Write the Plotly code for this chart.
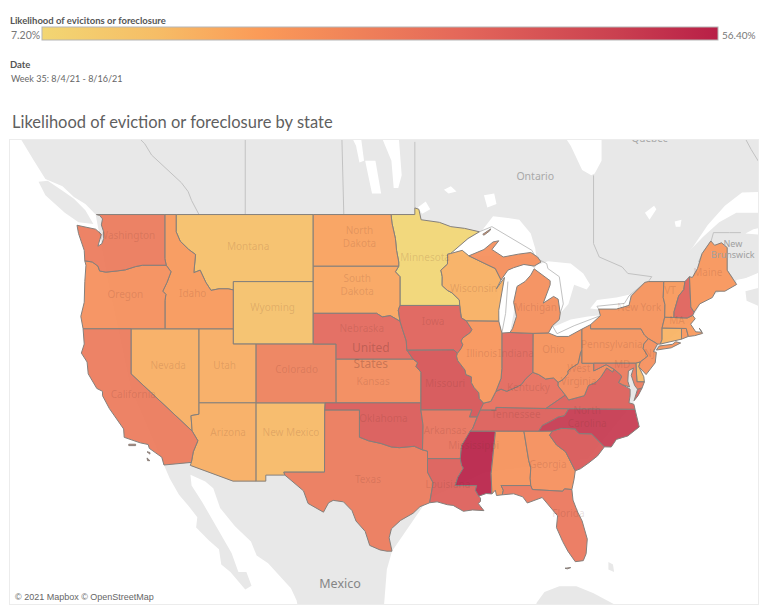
import math
import plotly.graph_objects as go
from plotly.colors import sample_colorscale

# ---------- chart values ----------
STATES = ["MN","WY","MT","NV","UT","AZ","NM","WI","ND","SD","ID","OR","CA","WA","CO","KS","TX","OK","NE","IA",
          "MO","AR","LA","MS","AL","GA","FL","SC","NC","TN","KY","VA","WV","OH","IN","IL","MI","PA","NY","NJ",
          "DE","MD","CT","RI","MA","VT","NH","ME"]
VALUES = [7.2,14.5,15,19,19.5,19,16.5,18.5,22,21,24,27,33,33,31,28,33,42,38,40,
          44,35,41,56.4,26,27,34,43,51,41,36,41,28,26,38,25,27,26,26,27,
          17,33,18,25,24,24,40,25]
VMIN, VMAX = 7.2, 56.4
COLORSCALE = [[0,"#f2d673"],[0.17,"#f6bd66"],[0.32,"#fb9b58"],[0.62,"#e4675a"],[0.85,"#ca4050"],[1,"#b81f47"]]

TITLE = "Likelihood of eviction or foreclosure by state"
LEGEND_TITLE = "Likelihood of evicitons or foreclosure"
DATE_TITLE = "Date"
DATE_VALUE = "Week 35: 8/4/21 - 8/16/21"

# ---------- geography (lon, lat) ----------
COLUMBIA = [(-124.05,46.27),(-123.4,46.2),(-122.9,45.95),(-122.75,45.65),(-122.2,45.58),(-121.2,45.65),(-120.5,45.72),(-119.6,45.92),(-119,46),(-116.92,46)]
SNAKE = [(-116.92,46),(-116.5,45.6),(-116.85,44.95),(-117.22,44.4),(-116.95,44.2),(-117.03,43.8)]
ID_MT = [(-116.05,49),(-116.05,48),(-115.7,47.45),(-114.95,46.95),(-114.35,46.65),(-114.5,45.55),(-113.95,45.7),(-113.45,44.95),(-113,44.45),(-112.3,44.55),(-111.5,44.55),(-111.05,44.48)]
RED_N = [(-97.23,49),(-97.15,48.5),(-96.85,47.6),(-96.75,46.9),(-96.56,46.2),(-96.56,45.94)]
MO_N = [(-96.45,42.49),(-96.25,42),(-96.1,41.6),(-95.9,41.2),(-95.85,40.6)]
MO_S = [(-95.85,40.6),(-95.31,40),(-94.9,39.75),(-95.05,39.5),(-94.61,39.11)]
ST_CROIX = [(-92.01,46.71),(-92.29,46.66),(-92.29,46.07),(-92.87,45.7),(-92.75,45.3),(-92.76,44.75),(-92.3,44.45),(-91.9,44.3),(-91.25,43.85),(-91.22,43.5)]
MISS_1 = [(-91.22,43.5),(-91.15,43),(-91.07,42.7),(-90.64,42.51)]
MISS_2 = [(-90.64,42.51),(-90.15,41.95),(-90.3,41.75),(-90.95,41.4),(-91.1,41.2),(-90.95,40.95),(-91.1,40.7),(-91.42,40.38)]
MISS_3 = [(-91.42,40.38),(-91.5,40.2),(-91.4,39.9),(-90.75,39.25),(-90.68,38.95),(-90.2,38.8),(-90.2,38.4),(-89.95,38.05),(-89.55,37.7),(-89.5,37.3),(-89.13,36.98)]
MISS_4 = [(-89.13,36.98),(-89.42,36.5),(-89.7,36)]
MISS_5 = [(-89.7,36),(-90.1,35.15),(-90.3,35)]
MISS_6 = [(-90.3,35),(-90.55,34.6),(-91.05,33.95),(-91.17,33)]
MISS_7 = [(-91.17,33),(-91.05,32.5),(-90.9,32.3),(-91.4,31.6),(-91.6,31)]
OHIO_W = [(-89.13,36.98),(-88.5,37.1),(-88.05,37.8)]
OHIO_IN = [(-88.05,37.8),(-87.6,37.95),(-87.1,37.8),(-86.5,38),(-85.85,38.25),(-85.4,38.7),(-84.82,39.1)]
OHIO_OH = [(-84.82,39.1),(-84.3,38.95),(-83.7,38.65),(-83,38.72),(-82.6,38.42)]
OHIO_WV = [(-82.6,38.42),(-82.2,38.6),(-81.75,39),(-81.75,39.2),(-81.45,39.4),(-80.85,39.7),(-80.65,40.4),(-80.52,40.64)]
RED_S = [(-100,34.56),(-99.2,34.3),(-98.1,34.1),(-97.2,33.85),(-96.5,33.8),(-95.2,33.9),(-94.48,33.64)]
SAVANNAH = [(-83.11,35),(-83.35,34.7),(-82.75,34),(-81.95,33.5),(-81.4,32.6),(-81.1,32.1)]
NC_SC = [(-83.11,35),(-82.3,35.2),(-81.05,35.15),(-81.05,35.05),(-80.78,34.82),(-79.67,34.8),(-78.55,33.86)]
NC_TN = [(-81.68,36.59),(-82.05,36.1),(-82.6,36),(-83.1,35.77),(-84,35.4),(-84.32,34.99)]
VA_WV = [(-81.97,37.54),(-81.68,37.2),(-80.3,37.5),(-79.95,38.2),(-79.3,38.42),(-78.87,38.77),(-78.35,39.4),(-77.83,39.13),(-77.72,39.32)]
POTOMAC = [(-77.72,39.32),(-77.12,38.93),(-77.04,38.79),(-77.3,38.4),(-76.95,38.25)]
DEL_R = [(-75.42,39.8),(-74.75,40.2),(-75.15,40.7),(-75.1,41),(-74.7,41.36)]
NY_PA = [(-74.7,41.36),(-75.05,41.6),(-75.35,42),(-79.76,42)]
CT_RIV = [(-71.3,42.7),(-72.46,42.73)]
VT_NH = [(-72.46,42.73),(-72.45,43.1),(-72.05,44.1),(-71.6,44.5),(-71.5,45)]
NH_ME = [(-71.1,45.3),(-70.98,43.4),(-70.7,43.07)]
WI_UP = [(-90.42,46.57),(-89.1,46.13),(-88.1,45.8),(-87.6,45.1)]
MN_N = [(-95.15,49),(-95.15,49.38),(-94.8,49.3),(-94.6,48.7),(-93,48.55),(-92,48.3),(-90.8,48.2),(-89.5,48),(-90.5,47.6),(-92.01,46.71)]
TX_LA = [(-94.04,33),(-94.04,32),(-93.55,31.2),(-93.7,30.5),(-93.85,29.7)]
MS_LA = [(-91.6,31),(-89.73,31),(-89.85,30.65),(-89.55,30.2)]
AZ_CA = [(-114.65,35),(-114.15,34.3),(-114.55,33.5),(-114.72,32.72)]
MO_AR = [(-89.7,36),(-90.37,36),(-90.15,36.5),(-94.62,36.5)]
def rv(s): return s[::-1]

SHAPES = {
 "WA":[[(-124.73,48.38),(-124.6,47.9),(-124.1,46.9)]+COLUMBIA+[(-117.04,46.4),(-117.04,49),(-123.03,49),(-122.75,48.95),(-122.5,48.75),(-122.6,48.4),(-122.4,48),(-122.4,47.6),(-122.55,47.3),(-122.9,47.15),(-122.6,47.85),(-123.1,48.15)]],
 "OR":[COLUMBIA+SNAKE+[(-117.03,42),(-124.2,42),(-124.4,42.8),(-124.1,43.7),(-124.05,45),(-123.95,46)]],
 "ID":[[(-117.04,49)]+ID_MT+[(-111.05,42),(-117.03,42)]+rv(SNAKE)+[(-117.04,46.4)]],
 "MT":[ID_MT+[(-111.05,45),(-104.05,45),(-104.05,49)]],
 "WY":[[(-111.05,45),(-104.05,45),(-104.05,41),(-111.05,41)]],
 "ND":[[(-104.05,49)]+RED_N+[(-104.05,45.94)]],
 "SD":[[(-104.05,45.94),(-96.56,45.94),(-96.85,45.6),(-96.45,45.3),(-96.45,43.5),(-96.6,43.2),(-96.45,42.49),(-97.3,42.85),(-98,42.77),(-98.5,43),(-104.05,43)]],
 "NE":[[(-104.05,43),(-98.5,43),(-98,42.77),(-97.3,42.85)]+MO_N+[(-95.31,40),(-102.05,40),(-102.05,41),(-104.05,41)]],
 "IA":[[(-96.45,43.5)]+MISS_1+MISS_2+[(-91.73,40.61),(-95.77,40.58)]+rv(MO_N)+[(-96.6,43.2)]],
 "KS":[[(-102.05,40),(-95.31,40),(-94.9,39.75),(-95.05,39.5),(-94.61,39.11),(-94.62,37),(-102.04,37)]],
 "CO":[[(-109.05,41),(-102.05,41),(-102.04,37),(-109.05,37)]],
 "UT":[[(-114.05,42),(-111.05,42),(-111.05,41),(-109.05,41),(-109.05,37),(-114.05,37)]],
 "NV":[[(-120,42),(-114.05,42),(-114.05,36.2),(-114.75,36.1),(-114.65,35),(-120,39)]],
 "CA":[[(-124.2,42),(-120,42),(-120,39)]+AZ_CA+[(-117.12,32.53),(-117.3,33.1),(-118.4,33.75),(-118.5,34.03),(-119.2,34.15),(-120.6,34.55),(-120.65,35.15),(-121.9,36.6),(-122.5,37.5),(-122.5,37.8),(-123,38),(-123.75,39),(-123.85,39.8),(-124.35,40.4),(-124.1,41)],
       [(-120.2,34.05),(-119.6,34.05),(-119.6,33.95),(-120.2,33.95)],[(-118.6,33.5),(-118.35,33.45),(-118.35,33.33)],[(-118.6,33.05),(-118.35,32.85),(-118.55,32.85)]],
 "AZ":[[(-114.05,37),(-109.05,37),(-109.05,31.33),(-111.07,31.33),(-114.81,32.5)]+rv(AZ_CA)+[(-114.75,36.1),(-114.05,36.2)]],
 "NM":[[(-109.05,37),(-103,37),(-103.04,36.5),(-103.06,32),(-106.62,32),(-106.53,31.78),(-108.2,31.78),(-108.2,31.33),(-109.05,31.33)]],
 "TX":[[(-103.04,36.5),(-100,36.5)]+RED_S+[(-94.04,33.55)]+TX_LA+[(-94.7,29.4),(-95.3,28.9),(-96.4,28.35),(-97.2,27.7),(-97.4,27),(-97.15,25.95),(-97.6,25.95),(-98.2,26.05),(-99.1,26.4),(-99.5,27.5),(-100.3,28.3),(-100.65,29.1),(-101.4,29.77),(-102.3,29.88),(-102.7,29.7),(-103.15,28.98),(-104.5,29.65),(-104.9,30.6),(-106,31.4),(-106.53,31.78),(-106.62,32),(-103.06,32)]],
 "OK":[[(-103,37),(-94.62,37),(-94.62,36.5),(-94.43,35.4)]+rv(RED_S)+[(-100,36.5),(-103.04,36.5)]],
 "AR":[rv(MO_AR)+MISS_5+MISS_6+[(-94.04,33),(-94.04,33.55),(-94.48,33.64),(-94.43,35.4)]],
 "LA":[[(-94.04,33)]+MISS_7+MS_LA[1:]+[(-89.4,30.05),(-89.4,29.8),(-89.6,29.65),(-89.1,29.1),(-90.1,29.15),(-90.9,29.05),(-91.8,29.5),(-92.3,29.55),(-93.2,29.77)]+rv(TX_LA)],
 "MS":[[(-90.3,35),(-88.2,35),(-88.1,34.9),(-88.47,31.9),(-88.4,30.37),(-88.9,30.4)]+rv(MS_LA)+rv(MISS_7)+rv(MISS_6)],
 "AL":[[(-88.2,35),(-85.6,35),(-85.18,32.87),(-85,32.3),(-85.05,31.55),(-85,31),(-87.6,31),(-87.4,30.65),(-87.5,30.3),(-88,30.25),(-88.1,30.65),(-88.4,30.37),(-88.47,31.9),(-88.1,34.9)]],
 "GA":[[(-85.6,35)]+SAVANNAH+[(-81.2,31.5),(-81.4,30.7),(-82.05,30.75),(-82.2,30.57),(-84.86,30.7),(-85,31),(-85.05,31.55),(-85,32.3),(-85.18,32.87)]],
 "FL":[[(-87.6,31),(-85,31),(-84.86,30.7),(-82.2,30.57),(-82.05,30.75),(-81.4,30.7),(-81.3,29.9),(-80.9,29),(-80.5,28.3),(-80.05,26.9),(-80.15,25.75),(-80.4,25.2),(-81.1,25.12),(-81.75,25.95),(-82.2,26.7),(-82.75,27.8),(-82.65,28.7),(-83.4,29.5),(-84,30.1),(-85.3,29.68),(-85.7,30.15),(-86.5,30.38),(-87.5,30.3),(-87.4,30.65)],
       [(-82.0,24.6),(-81.5,24.65),(-81.8,24.55)]],
 "SC":[NC_SC+[(-79.15,33.2),(-79.9,32.7),(-80.65,32.25)]+rv(SAVANNAH)],
 "NC":[NC_TN+[(-83.11,35)]+NC_SC[1:]+[(-77.95,33.85),(-77.5,34.4),(-76.5,34.65),(-75.5,35.3),(-75.87,36.55)]],
 "TN":[[(-89.42,36.5),(-88.07,36.5),(-88.05,36.68),(-83.68,36.6)]+NC_TN+MISS_5[::-1]],
 "KY":[OHIO_W+OHIO_IN+OHIO_OH+[(-82.6,38.17),(-81.97,37.54),(-83.68,36.6),(-88.05,36.68),(-88.07,36.5),(-89.42,36.5)]],
 "VA":[[(-83.68,36.6)]+VA_WV+POTOMAC+[(-76.3,37.95),(-76.3,37.5),(-76.4,37),(-75.97,36.9),(-75.87,36.55),(-81.68,36.59)],
       [(-75.95,37.15),(-75.65,37.95),(-75.25,38.03),(-75.6,37.5)]],
 "WV":[OHIO_WV+[(-80.52,39.72),(-79.48,39.72),(-79.48,39.2),(-78.4,39.62)]+rv(VA_WV)+[(-82.6,38.17)]],
 "OH":[[(-84.8,41.7),(-83.45,41.73),(-82.7,41.5),(-81.7,41.5),(-80.52,41.98)]+rv(OHIO_WV)+rv(OHIO_OH)],
 "IN":[[(-87.53,41.72),(-86.82,41.76),(-84.8,41.7)]+rv(OHIO_IN)+[(-87.6,38.7),(-87.53,39.35)]],
 "IL":[MISS_2[:1]+[(-87.8,42.49),(-87.53,41.72),(-87.53,39.35),(-87.6,38.7)]+rv(OHIO_W)+rv(MISS_3)+rv(MISS_2)],
 "MO":[[(-95.77,40.58),(-91.73,40.61)]+MISS_3+MISS_4+MO_AR+[(-94.62,37)]+rv(MO_S)],
 "MI":[[(-84.8,41.7),(-83.45,41.73),(-83.1,42.2),(-82.5,42.6),(-82.42,43),(-82.6,43.9),(-83,44.07),(-83.9,43.65),(-83.3,44.8),(-83.3,45.05),(-84.7,45.78),(-85,45.4),(-85.5,45),(-86.2,44.7),(-86.5,43.7),(-86.25,42.8),(-86.6,42),(-86.82,41.76)],
       WI_UP[:1]+[(-89.1,46.95),(-88.3,47.4),(-87.8,47.47),(-88.4,46.95),(-87.4,46.5),(-86.1,46.67),(-85,46.77),(-84.4,46.5),(-84.1,46.2),(-84.7,45.95),(-85.6,46.05),(-86.5,45.85),(-87,45.7)]+rv(WI_UP),
       [(-89.2,47.85),(-88.5,48.17),(-88.6,48.05),(-89.1,47.8)]],
 "WI":[ST_CROIX[:1]+[(-91,46.9)]+WI_UP+[(-88,44.55),(-87.3,45.25),(-87.5,44.4),(-87.8,43.2),(-87.8,42.49)]+rv(MISS_1)+rv(ST_CROIX)],
 "MN":[RED_N[:1]+MN_N+ST_CROIX[1:]+[(-96.45,43.5),(-96.45,45.3),(-96.85,45.6)]+rv(RED_N)],
 "PA":[[(-80.52,41.98),(-79.76,42.27)]+rv(NY_PA)+rv(DEL_R)+[(-75.79,39.72),(-80.52,39.72),(-80.52,40.64)]],
 "NJ":[DEL_R[::-1]+[(-75.55,39.5),(-74.9,38.95),(-74.1,39.75),(-74,40.45),(-74.25,40.5),(-73.9,41)]],
 "DE":[[(-75.79,39.72),(-75.42,39.8),(-75.55,39.5),(-75.1,38.8),(-75.05,38.45),(-75.7,38.46)]],
 "MD":[[(-79.48,39.72),(-75.79,39.72),(-75.7,38.46),(-75.05,38.45),(-75.25,38.03),(-75.65,37.95),(-75.9,38.2),(-76.2,38.9),(-76,39.4),(-76.45,39.2),(-76.5,38.5),(-76.35,38.1)]+rv(POTOMAC)+[(-78.4,39.62),(-79.48,39.2)]],
 "NY":[[(-79.76,42.27),(-78.9,42.85),(-79.05,43.27),(-77.5,43.27),(-76.4,43.5),(-76.2,44.1),(-75,44.95),(-74.7,45),(-73.35,45),(-73.4,44),(-73.25,43.55),(-73.27,42.75),(-73.5,42.05),(-73.5,41.3),(-73.65,41),(-73.9,41)]+NY_PA,
       [(-74,40.6),(-73.75,40.87),(-72.6,40.98),(-72.3,41.15),(-71.87,41.07),(-72.7,40.75)]],
 "CT":[[(-73.5,42.05),(-71.8,42.02),(-71.8,41.32),(-73.65,41),(-73.5,41.3)]],
 "RI":[[(-71.8,42.02),(-71.38,42.02),(-71.2,41.5),(-71.8,41.32)]],
 "MA":[[(-73.27,42.75)]+rv(CT_RIV)+[(-70.82,42.87),(-70.6,42.65),(-71,42.3),(-70.65,41.95),(-70.55,41.8),(-70,41.78),(-70.25,42.05),(-69.95,41.7),(-70.65,41.55),(-71.2,41.5),(-71.38,42.02),(-73.5,42.05)]],
 "VT":[[(-73.35,45)]+rv(VT_NH)+[(-73.27,42.75),(-73.25,43.55),(-73.4,44)]],
 "NH":[[(-71.5,45)]+NH_ME+[(-70.82,42.87)]+CT_RIV+VT_NH[1:]],
 "ME":[NH_ME[:1]+[(-70.85,45.25),(-70.4,45.8),(-70.25,46.2),(-70,46.7),(-69.23,47.46),(-68.9,47.2),(-68.3,47.35),(-67.8,47.07),(-67.8,45.7),(-67.45,45.3),(-66.97,44.82),(-68,44.4),(-68.8,44.4),(-69.1,44),(-70.2,43.6),(-70.7,43.07),(-70.98,43.4)]],
}

LAND = [
 [(-131,53.6),(-129.6,53.1),(-128.5,52),(-127.5,51),(-126,50.6),(-125,50),(-124,49.6),(-123.1,49),(-122,45),(-120,38),(-117.12,32.53),
  (-116.6,31.5),(-115.8,30.3),(-115,29.5),(-114.2,28.6),(-114.3,27.8),(-113.2,26.8),(-112.3,26.1),(-112.1,24.9),(-111.3,24.3),(-110,22.9),(-109.45,23.2),(-109.9,24.3),(-110.6,24.3),(-111.2,25.8),(-112.3,27.5),(-113,28.5),(-113.8,29.8),(-114.7,31),(-114.8,31.8),
  (-113.5,31.3),(-112.8,30.8),(-112.2,29.3),(-110.9,27.9),(-109.5,26.7),(-109,25.6),(-108,25),(-107.2,24.2),(-106,23),(-105.5,22),(-105.3,21),(-97.9,21),(-97.75,22.5),(-97.6,24.5),(-97.15,25.95),
  (-94,30),(-89,32),(-80,33),(-76,37),(-75,40),(-71,42.5),(-70,43.8),(-67,44.9),(-66.2,45.2),(-64.5,45.7),(-64.5,53.6)],
 [(-128.1,50.85),(-127.3,50.9),(-126,50.35),(-125,49.9),(-124,49.25),(-123.3,48.45),(-124.6,48.55),(-125.8,49.1),(-127.5,50.1)],
 [(-64.5,44.7),(-66.2,44.4),(-66.1,43.8),(-64.5,43.3)],
 [(-84.5,21.8),(-83.8,22.7),(-82.5,23.15),(-81,23.15),(-79.5,22.6),(-77.5,21.6),(-77.5,21),(-84.5,21)],
 [(-78.2,25.1),(-77.8,24.9),(-77.7,24.3),(-78.2,24.5)],
]
WATER = [
 [(-92.1,46.7),(-90.4,47.6),(-89.3,48.05),(-88.3,48.9),(-87,48.8),(-86,48.7),(-85,47.9),(-84.6,47),(-84.5,46.45),(-86,46.4),(-88,46.6),(-90,46.5)],
 [(-87.6,41.7),(-87.8,43),(-87.9,44.6),(-87.6,45.2),(-87,45.7),(-86,46),(-85,46),(-84.7,45.8),(-85.5,44.8),(-86.3,44.5),(-86.5,43),(-86.8,41.8),(-87.3,41.6)],
 [(-84.5,46),(-83.5,46.25),(-81.5,46.1),(-80.4,45.5),(-79.8,44.8),(-80.1,44.5),(-81.2,44.8),(-81.7,43.6),(-82.4,43),(-82.6,43.9),(-83.9,43.6),(-83.3,45),(-84.7,45.75)],
 [(-83.45,41.73),(-83.1,42.1),(-81.5,42.6),(-80,42.8),(-78.9,42.87),(-79.8,42.25),(-81.7,41.5),(-82.7,41.45)],
 [(-79.8,43.3),(-79.2,43.85),(-77.5,44),(-76.3,44.2),(-76.2,43.55),(-77.5,43.27),(-79.05,43.25)],
 [(-98.3,53.6),(-96.6,53.6),(-96.3,51.2),(-96.6,50.5),(-97,50.5),(-97.2,52)],
 [(-99.5,52),(-98.6,52),(-98.1,50.2),(-98.9,50.2)],
 [(-100.8,53.4),(-99.9,53.4),(-99.6,52),(-100,51.9),(-100.3,52.8)],
 [(-82.4,53.6),(-78.8,53.6),(-78.8,52),(-79.4,51.3),(-79.7,51.2),(-80.5,51.5),(-81.5,52.8)],
 [(-94.9,49.4),(-94.2,49.75),(-93.8,49.3),(-94.5,49.05)],
 [(-89.1,50.1),(-88.2,50.2),(-88,49.6),(-88.8,49.4)],
 [(-92.6,50.4),(-92,50.6),(-91.5,50.3),(-92.2,50.2)],
 [(-75,49.1),(-74.2,49.5),(-74,49.3),(-74.6,48.7)],
 [(-72.4,48.6),(-71.8,48.7),(-71.9,48.3),(-72.3,48.3)],
 [(-71.2,46.8),(-69.9,47.7),(-68.5,48.55),(-67,49.1),(-64.5,49.1),(-64.5,50.3),(-66.5,50.25),(-68,49.5),(-69.5,48.4),(-70.8,47.1)],
 [(-66.2,47.9),(-64.5,47.8),(-64.5,48.3),(-65.5,48.15)],
 [(-67,45.1),(-65.9,45.25),(-64.5,45.7),(-64.5,44.9),(-65.9,44.5),(-67,44.6)],
]
BORDERS = [
 [(-119.8,53.5),(-118.8,52.9),(-118.2,52.3),(-116.8,51.5),(-115.6,50.8),(-115,50.3),(-114.7,49.8),(-114.05,49)],
 [(-110,53.5),(-110,49)],
 [(-101.55,53.5),(-101.37,49)],
 [(-95.15,53),(-95.15,49.38)],
 [(-89.5,48),(-88.4,48.3),(-84.9,46.9),(-84.55,46.45),(-83.6,46.1),(-83.5,45.8),(-82.5,45.3),(-82.15,43.6),(-82.42,43)],
 [(-83.1,42.2),(-82.7,41.68),(-81.2,42.2),(-78.9,42.85)],
 [(-79.05,43.27),(-79.2,43.45),(-76.8,43.63),(-76.4,44.1),(-75,44.95)],
 [(-87.53,41.72),(-87.2,43),(-87,45)],
 [(-79.5,51.2),(-79.5,47.3),(-79,46.5),(-77,45.9),(-76.5,45.5),(-74.4,45.3),(-74.7,45)],
 [(-69.2,47.46),(-69,47.95),(-67.6,47.95),(-66.6,47.95)],
 [(-67.8,47.07),(-67.8,45.7),(-67.3,45.2)],
 [(-70.3,46.2),(-70,46.7),(-69.2,47.46)],
 [(-71.5,45),(-72.5,45),(-74.7,45)],
 [(-66.5,53.5),(-65.7,52.6),(-65,51.9)],
]

LABELS = {"WA":("Washington",-120.35,47.7),"OR":("Oregon",-120.5,44.1),"ID":("Idaho",-114.6,44.2),"MT":("Montana",-109.75,47.05),
 "WY":("Wyoming",-107.6,43.3),"ND":("North<br>Dakota",-100,47.65),"SD":("South<br>Dakota",-100.2,44.7),"NE":("Nebraska",-99.8,41.95),
 "KS":("Kansas",-98.8,38.4),"CO":("Colorado",-105.5,39.2),"UT":("Utah",-111.8,39.5),"NV":("Nevada",-116.75,39.5),"CA":("California",-119.8,37.5),
 "AZ":("Arizona",-111.5,34.8),"NM":("New Mexico",-106,34.8),"TX":("Texas",-99.25,31.35),"OK":("Oklahoma",-97.9,35.8),"AR":("Arkansas",-92.5,35),
 "LA":("Louisiana",-92.25,31),"MS":("Mississippi",-90,33.85),"TN":("Tennessee",-86.3,36.1),"NC":("North<br>Carolina",-80.05,35.9),"FL":("Florida",-81.7,28.8),
 "GA":("Georgia",-83.5,32.5),"MN":("Minnesota",-94.25,46.4),"WI":("Wisconsin",-90,44.5),"IA":("Iowa",-93.55,42.4),"IL":("Illinois",-89.3,40.3),
 "MO":("Missouri",-92.5,38.3),"IN":("Indiana",-86.3,40.3),"OH":("Ohio",-83,40.6),"KY":("Kentucky",-85.2,38),"WV":("West<br>Virginia",-80.8,38.85),
 "MI":("Michigan",-84.6,43.3),"PA":("Pennsylvania",-77.9,40.9),"NY":("New York",-75.5,43.3),"ME":("Maine",-69.5,45.5),"VT":("VT",-72.8,44.4),
 "MA":("MA",-72.2,42.5),"MD":("MD",-77,39.6),"NJ":("NJ",-74.6,40.3)}
MAP_LABELS = [("Ontario",-84.6,51.1,10.5,"#a8a8a8"),("Quebec",-74.6,53.15,10,"#a8a8a8"),("New<br>Brunswick",-67.3,46.9,9,"#a0a0a0"),
              ("Mexico",-101.7,23.3,12.5,"#858585")]
COUNTRY_LABEL = ("United<br>States",-99,40.15)

LON_RANGE = (-130.6,-65.1)
LAT_RANGE = (21.72,53.1)
def merc(lat):
    return math.degrees(math.log(math.tan(math.radians(45+lat/2))))
def xy(polys):
    xs,ys=[],[]
    for p in polys:
        for lon,lat in p:
            xs.append(lon); ys.append(merc(lat))
        xs.append(None); ys.append(None)
    return xs,ys
def closed(polys):
    return [p+p[:1] for p in polys]

fig = go.Figure()
x,y = xy(LAND)
fig.add_trace(go.Scatter(x=x,y=y,mode="lines",fill="toself",fillcolor="#e8e8e8",line=dict(width=0),hoverinfo="skip",showlegend=False))
x,y = xy(WATER)
fig.add_trace(go.Scatter(x=x,y=y,mode="lines",fill="toself",fillcolor="#ffffff",line=dict(width=0),hoverinfo="skip",showlegend=False))
x,y = xy(BORDERS)
fig.add_trace(go.Scatter(x=x,y=y,mode="lines",line=dict(width=1,color="#c2c2c2"),hoverinfo="skip",showlegend=False))
for st,val in zip(STATES,VALUES):
    x,y = xy(closed(SHAPES[st]))
    col = sample_colorscale(COLORSCALE,[(val-VMIN)/(VMAX-VMIN)])[0].replace("rgb(","rgba(").replace(")",",0.92)")
    fig.add_trace(go.Scatter(x=x,y=y,mode="lines",fill="toself",fillcolor=col,line=dict(width=1,color="#85807c"),
                             name=st,text=f"{st}: {val:.2f}%",hoverinfo="text",showlegend=False))
lab = [s for s in STATES if s in LABELS]
fig.add_trace(go.Scatter(x=[LABELS[s][1] for s in lab],y=[merc(LABELS[s][2]) for s in lab],mode="text",
    text=[LABELS[s][0] for s in lab],textfont=dict(family="Noto Sans",size=10,color="rgba(110,50,40,0.17)"),hoverinfo="skip",showlegend=False))
for t,lon,lat,size,c in MAP_LABELS:
    fig.add_trace(go.Scatter(x=[lon],y=[merc(lat)],mode="text",text=[t],textfont=dict(family="Noto Sans",size=size,color=c),hoverinfo="skip",showlegend=False))
fig.add_trace(go.Scatter(x=[COUNTRY_LABEL[1]],y=[merc(COUNTRY_LABEL[2])],mode="text",text=[COUNTRY_LABEL[0]],
    textfont=dict(family="Noto Sans",size=12,color="rgba(100,50,45,0.3)"),hoverinfo="skip",showlegend=False))
# colour legend, carried by invisible points holding the state values
fig.add_trace(go.Scatter(x=[LON_RANGE[0]]*len(VALUES),y=[merc(LAT_RANGE[0])]*len(VALUES),mode="markers",
    marker=dict(color=VALUES,coloraxis="coloraxis",size=1,opacity=0),hoverinfo="skip",showlegend=False))

W,H = 768,614
L,R,T,B = 10,10,140,10
pw,ph = W-L-R,H-T-B
fig.update_layout(
    width=W,height=H,margin=dict(l=L,r=R,t=T,b=B),paper_bgcolor="white",plot_bgcolor="white",
    xaxis=dict(range=LON_RANGE,visible=True,showticklabels=False,ticks="",showgrid=False,zeroline=False,showline=True,mirror=True,linecolor="#ececec",linewidth=1),
    yaxis=dict(range=[merc(LAT_RANGE[0]),merc(LAT_RANGE[1])],showticklabels=False,ticks="",showgrid=False,zeroline=False,showline=True,mirror=True,linecolor="#ececec",linewidth=1),
    coloraxis=dict(cmin=VMIN,cmax=VMAX,colorscale=COLORSCALE,colorbar=dict(
        orientation="h",lenmode="pixels",len=676,thickness=13,thicknessmode="pixels",x=(42-L)/pw,xanchor="left",
        y=1+(T-41)/ph,yanchor="bottom",xpad=0,ypad=0,showticklabels=False,ticks="",outlinecolor="#b5b5b5",outlinewidth=1,borderwidth=0)),
)
def note(text,px,py,size,color,family="Lato",anchor="left",bg=None):
    fig.add_annotation(text=text,x=(px-L)/pw,y=1-(py-T)/ph,xref="paper",yref="paper",xanchor=anchor,yanchor="middle",showarrow=False,
                       font=dict(family=family,size=size,color=color),bgcolor=bg,borderpad=1)
note(f"<b>{LEGEND_TITLE}</b>",8,20,9.5,"#555555")
note("7.20%",42,35,10.5,"#777777",anchor="right")
note("56.40%",720,35,10,"#777777")
note(f"<b>{DATE_TITLE}</b>",8,64,9.5,"#555555")
note(DATE_VALUE,9,78,9,"#666666")
note(TITLE,10,122,16.5,"#5f5f5f")
note("© 2021 Mapbox © OpenStreetMap",13,597,9,"#666666",family="Liberation Sans",bg="rgba(255,255,255,0.6)")
fig.write_html("out.html",config=dict(displayModeBar=False),post_script="document.body.style.margin='0';")
